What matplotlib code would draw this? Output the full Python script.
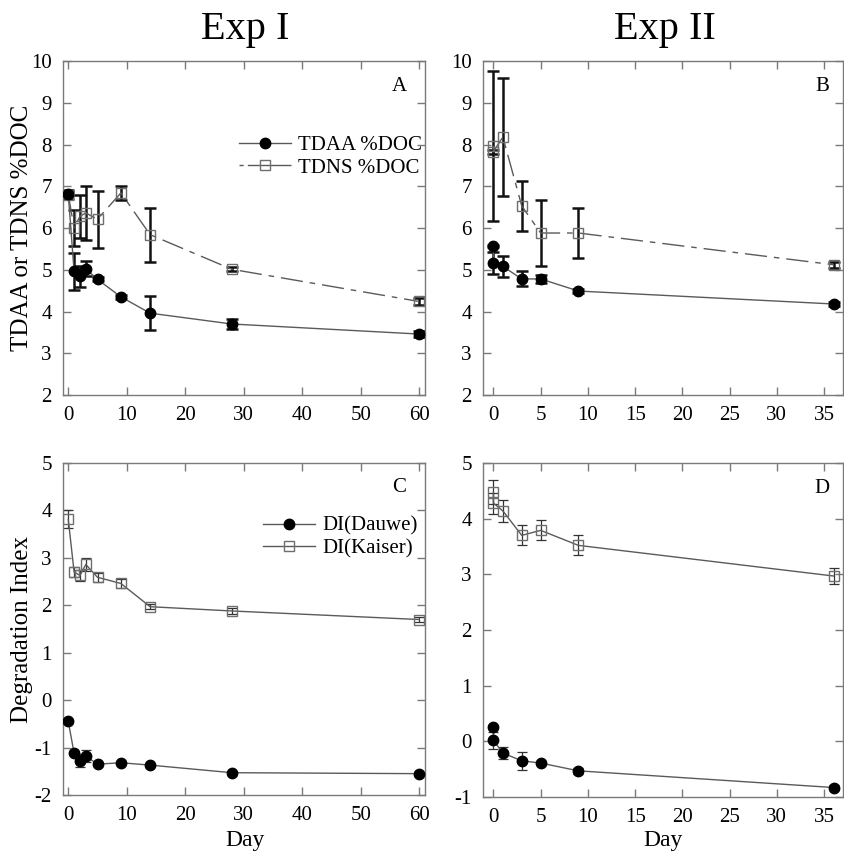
import matplotlib
matplotlib.use("Agg")
import matplotlib.pyplot as plt
from matplotlib.lines import Line2D

plt.rcParams['font.family'] = ['Liberation Serif', 'DejaVu Serif']

# ---------------- data ----------------
# Exp I
day1 = [0, 1, 2, 3, 5, 9, 14, 28, 60]
tdaa1 = [6.81, 4.96, 4.84, 5.02, 4.77, 4.35, 3.96, 3.70, 3.46]
tdaa1_err = [0.05, 0.45, 0.26, 0.18, 0.05, 0.05, 0.40, 0.12, 0.07]
tdns1 = [6.80, 6.00, 6.28, 6.36, 6.21, 6.84, 5.84, 5.01, 4.24]
tdns1_err = [0.10, 0.42, 0.52, 0.65, 0.68, 0.17, 0.65, 0.05, 0.08]
dauwe1 = [-0.45, -1.12, -1.28, -1.18, -1.35, -1.32, -1.37, -1.53, -1.55]
dauwe1_err = [0.03, 0.04, 0.14, 0.13, 0.03, 0.03, 0.03, 0.03, 0.03]
kaiser1 = [3.81, 2.70, 2.63, 2.86, 2.59, 2.46, 1.97, 1.88, 1.70]
kaiser1_err = [0.19, 0.11, 0.12, 0.14, 0.10, 0.10, 0.05, 0.06, 0.05]

# Exp II
day2 = [0, 0, 1, 3, 5, 9, 36]
tdaa2 = [5.57, 5.17, 5.08, 4.78, 4.78, 4.49, 4.18]
tdaa2_err = [0.03, 0.26, 0.25, 0.18, 0.10, 0.04, 0.04]
tdns2 = [7.97, 7.83, 8.18, 6.53, 5.88, 5.88, 5.12]
tdns2_err = [1.80, 0.05, 1.42, 0.60, 0.80, 0.59, 0.07]
dauwe2 = [0.26, 0.02, -0.21, -0.35, -0.39, -0.53, -0.83]
dauwe2_err = [0.03, 0.15, 0.10, 0.16, 0.04, 0.05, 0.05]
kaiser2 = [4.48, 4.28, 4.14, 3.70, 3.79, 3.52, 2.97]
kaiser2_err = [0.22, 0.19, 0.20, 0.18, 0.18, 0.18, 0.14]

xticks1 = [0, 10, 20, 30, 40, 50, 60]
xticks2 = [0, 5, 10, 15, 20, 25, 30, 35]

# ---------------- layout ----------------
W, H = 845, 855
fig = plt.figure(figsize=(W / 100, H / 100), dpi=100)


def add_ax(l, r, t, b):
    return fig.add_axes([l / W, (H - b) / H, (r - l) / W, (b - t) / H])


axA = add_ax(63, 425, 61, 395)
axB = add_ax(483, 843, 61, 395)
axC = add_ax(63, 425, 463, 795)
axD = add_ax(483, 843, 463, 797)

SPINE = '#7a7a7a'
LINE = '#5a5a5a'
SQ = '#6e6e6e'
dashdot = (0, (16, 5, 4, 5))


def style(ax, xlim, xt, ylim, yt):
    ax.set_xlim(*xlim)
    ax.set_ylim(*ylim)
    ax.set_xticks(xt)
    ax.set_yticks(yt)
    ax.set_yticklabels([str(v) for v in yt])
    for s in ax.spines.values():
        s.set_color(SPINE)
        s.set_linewidth(1.0)
    ax.tick_params(direction='in', length=6, width=1, color=SPINE,
                   top=True, right=True, labelsize=15, pad=8)


def plot_pair(ax, x, y1, e1, y2, e2, thick, ls2, lab1, lab2):
    elw = 1.8 if thick else 0.9
    ecol = '#111111' if thick else '#333333'
    cap = 4.5 if thick else 3.5
    ax.errorbar(x, y2, yerr=e2, fmt='none', ecolor=ecol, elinewidth=elw,
                capsize=cap, capthick=elw, zorder=2)
    ax.errorbar(x, y1, yerr=e1, fmt='none', ecolor=ecol, elinewidth=elw,
                capsize=cap, capthick=elw, zorder=2)
    ax.plot(x, y2, linestyle=ls2, color=LINE, lw=1.0, marker='s', ms=7,
            mfc='none', mec=SQ, mew=1.0, zorder=3, label=lab2)
    ax.plot(x, y1, linestyle='-', color=LINE, lw=1.0, marker='o', ms=7.5,
            mfc='black', mec='black', zorder=4, label=lab1)


plot_pair(axA, day1, tdaa1, tdaa1_err, tdns1, tdns1_err, True, dashdot,
          'TDAA %DOC', 'TDNS %DOC')
plot_pair(axB, day2, tdaa2, tdaa2_err, tdns2, tdns2_err, True, dashdot,
          'TDAA %DOC', 'TDNS %DOC')
plot_pair(axC, day1, dauwe1, dauwe1_err, kaiser1, kaiser1_err, False, '-',
          'DI(Dauwe)', 'DI(Kaiser)')
plot_pair(axD, day2, dauwe2, dauwe2_err, kaiser2, kaiser2_err, False, '-',
          'DI(Dauwe)', 'DI(Kaiser)')

style(axA, (-0.9, 61.0), xticks1, (2, 10), list(range(2, 11)))
style(axB, (-1.1, 37.0), xticks2, (2, 10), list(range(2, 11)))
style(axC, (-0.9, 61.0), xticks1, (-2, 5), list(range(-2, 6)))
style(axD, (-1.1, 37.0), xticks2, (-1, 5), list(range(-1, 6)))


# legends
def legend(ax, labels, ls2, x, y):
    h1 = Line2D([], [], color=LINE, lw=1.0, marker='o', ms=7.5,
                mfc='black', mec='black')
    h2 = Line2D([], [], color=LINE, lw=1.0, linestyle=ls2, marker='s', ms=7,
                mfc='none', mec=SQ)
    ax.legend([h1, h2], labels, loc='center left', bbox_to_anchor=(x, y),
              frameon=False, fontsize=15, handlelength=2.5,
              handletextpad=0.35, labelspacing=0.15, borderpad=0,
              borderaxespad=0)


legend(axA, ['TDAA %DOC', 'TDNS %DOC'], (0, (3, 3, 30, 0)), 0.486, 0.714)
legend(axC, ['DI(Dauwe)', 'DI(Kaiser)'], '-', 0.552, 0.776)

# panel letters
for ax, letter, x in [(axA, 'A', 0.928), (axB, 'B', 0.942),
                      (axC, 'C', 0.928), (axD, 'D', 0.942)]:
    ax.text(x, 0.925, letter, transform=ax.transAxes, ha='center',
            va='center', fontsize=15)

# titles & labels
fig.text(245 / W, 1 - 30 / H, 'Exp I', ha='center', va='center', fontsize=29)
fig.text(665 / W, 1 - 30 / H, 'Exp II', ha='center', va='center', fontsize=29)
fig.text(22 / W, 1 - 228 / H, 'TDAA or TDNS %DOC', rotation=90,
         ha='center', va='center', fontsize=18)
fig.text(22 / W, 1 - 629 / H, 'Degradation Index', rotation=90,
         ha='center', va='center', fontsize=18)
fig.text(245 / W, 1 - 840 / H, 'Day', ha='center', va='center', fontsize=17)
fig.text(663 / W, 1 - 840 / H, 'Day', ha='center', va='center', fontsize=17)

fig.savefig('out.png', dpi=100)
